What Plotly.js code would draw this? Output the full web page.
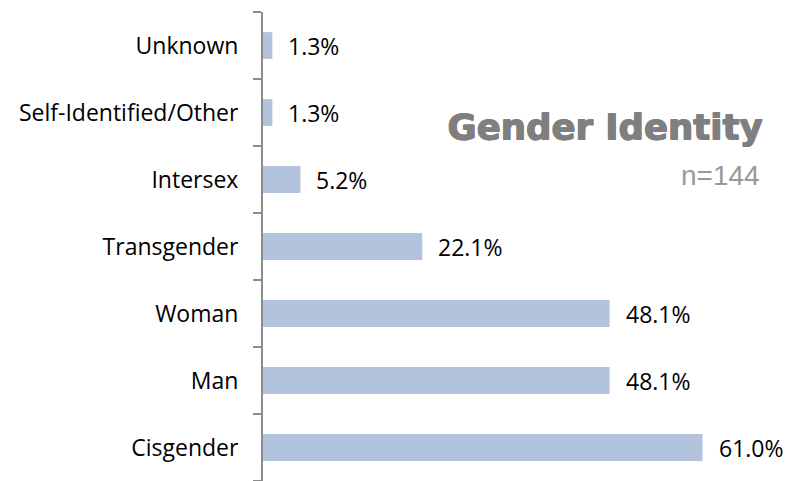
<!DOCTYPE html>
<html>
<head>
<meta charset="utf-8">
<script src="https://cdn.plot.ly/plotly-3.0.1.min.js"></script>
<style>html,body{margin:0;padding:0;background:#fff;}#chart{width:789px;height:481px;}</style>
</head>
<body>
<div id="chart"></div>
<script>
const categories = ["Cisgender","Man","Woman","Transgender","Intersex","Self-Identified/Other","Unknown"];
const percents = [61.0, 48.1, 48.1, 22.1, 5.2, 1.3, 1.3];
const chartTitle = "Gender Identity";
const sampleNote = "n=144";

const trace = {
  type: "bar",
  orientation: "h",
  y: categories,
  x: percents,
  marker: {color: "#b4c3dd"},
  hoverinfo: "none"
};

const labelAnns = categories.map((c, i) => ({
  x: percents[i], y: c, xref: "x", yref: "y",
  text: percents[i].toFixed(1) + "%",
  showarrow: false, xanchor: "left", yanchor: "middle", xshift: 14,
  font: {family: "Open Sans, sans-serif", size: 23, color: "#000"}
}));

const layout = {
  width: 789, height: 481,
  margin: {l: 263, r: 0, t: 12, b: 0},
  paper_bgcolor: "#fff", plot_bgcolor: "#fff",
  showlegend: false,
  bargap: 0.6,
  xaxis: {range: [0, 73], showgrid: false, zeroline: false, showticklabels: false, showline: false, ticks: ""},
  yaxis: {
    type: "category", categoryorder: "array", categoryarray: categories,
    showline: true, linecolor: "#8c8c8c", linewidth: 2,
    ticks: "outside", tickson: "boundaries", ticklen: 8, tickcolor: "#8c8c8c", tickwidth: 2,
    showgrid: false, zeroline: false,
    ticklabelstandoff: 18,
    tickfont: {family: "Open Sans, sans-serif", size: 23, color: "#000"}
  },
  annotations: labelAnns.concat([
    {xref: "paper", yref: "paper", x: 1, xshift: -25, y: 0.755, xanchor: "right", yanchor: "middle",
     text: chartTitle, showarrow: false,
     font: {family: "DejaVu Sans, sans-serif", size: 35.5, weight: "bold", color: "#7f7f7f",
            shadow: "1px 0 0 #7f7f7f, 0 0.6px 0 #7f7f7f, 1px 0.6px 0 #7f7f7f"}},
    {xref: "paper", yref: "paper", x: 1, xshift: -27, y: 0.652, xanchor: "right", yanchor: "middle",
     text: sampleNote, showarrow: false,
     font: {family: "Liberation Sans, Arial, sans-serif", size: 28, color: "#999"}}
  ])
};

Plotly.newPlot("chart", [trace], layout, {displayModeBar: false, staticPlot: true});
</script>
</body>
</html>
